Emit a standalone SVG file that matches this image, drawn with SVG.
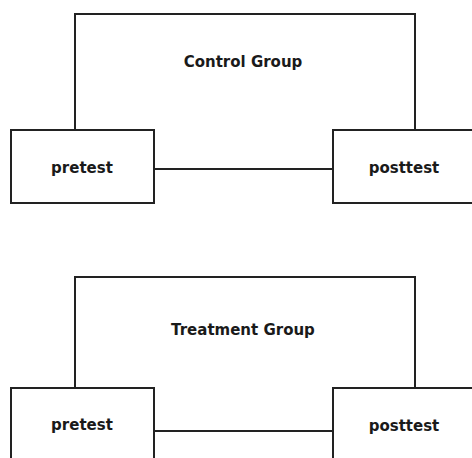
<svg xmlns="http://www.w3.org/2000/svg" width="472" height="458" viewBox="0 0 472 458">
<style>
.box{fill:#fff;stroke:#222;stroke-width:2}
.ln{fill:none;stroke:#222;stroke-width:2}
.t{font-family:"DejaVu Sans",Verdana,sans-serif;font-weight:bold;font-size:15px;fill:#1a1a1a;text-anchor:middle}
</style>
<rect width="472" height="458" fill="#fff"/>
<g id="connectors">
  <path class="ln" d="M75,130 V14 H415 V130"/>
  <path class="ln" d="M154,169 H333"/>
  <path class="ln" d="M75,388 V277 H415 V388"/>
  <path class="ln" d="M154,431 H333"/>
  <text class="t" x="243" y="67">Control Group</text>
  <text class="t" x="243" y="335">Treatment Group</text>
</g>
<g id="control-pretest">
  <rect class="box" x="11" y="130" width="143" height="73"/>
  <text class="t" x="82" y="173">pretest</text>
</g>
<g id="control-posttest">
  <rect class="box" x="333" y="130" width="150" height="73"/>
  <text class="t" x="404" y="173">posttest</text>
</g>
<g id="treatment-pretest">
  <rect class="box" x="11" y="388" width="143" height="90"/>
  <text class="t" x="82" y="430">pretest</text>
</g>
<g id="treatment-posttest">
  <rect class="box" x="333" y="388" width="150" height="90"/>
  <text class="t" x="404" y="431">posttest</text>
</g>
</svg>
